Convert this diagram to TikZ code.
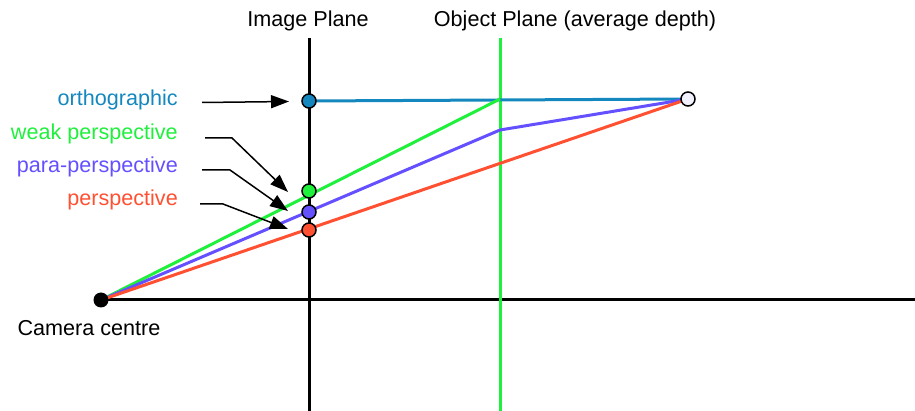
\documentclass[tikz,border=0pt]{standalone}
\usepackage{fontspec}
\setmainfont{Liberation Sans}
\usetikzlibrary{arrows.meta}
\definecolor{cblue}{RGB}{20,136,190}
\definecolor{cgreen}{RGB}{30,240,60}
\definecolor{cpurple}{RGB}{100,80,255}
\definecolor{cred}{RGB}{255,80,50}
\begin{document}
\begin{tikzpicture}[x=1pt,y=-1pt,
  lbl/.style={font=\fontsize{21.6}{25}\selectfont, inner sep=0pt},
  ray/.style={line width=3pt, line join=round},
  plane/.style={line width=3pt},
  dot/.style={circle, draw=black, line width=1.5pt, minimum size=14pt, inner sep=0pt},
  ptr/.style={line width=1.5pt, -{Triangle[length=18pt,width=13pt]}}]
\useasboundingbox (0,0) rectangle (915,411);
% coordinates
\coordinate (C) at (101,300);
\coordinate (P) at (688,99);
\coordinate (Gk) at (500,99);
\coordinate (Pk) at (500,130);
\coordinate (axend) at (915,300);
\coordinate (ipt) at (309,38);
\coordinate (ipb) at (309,411);
\coordinate (opt) at (500,38);
\coordinate (opb) at (500,411);
% planes
\draw[plane, black] (C) -- (axend);
\draw[plane, cgreen] (opt) -- (opb);
% rays
\draw[ray, cblue] (309,101) -- (P);
\draw[ray, cgreen] (C) -- (Gk);
\draw[ray, cpurple] (C) -- (Pk) -- (P);
\draw[ray, cred] (C) -- (P);
\draw[plane, black] (ipt) -- (ipb);
% points
\node[dot, fill=cblue] (ob) at (309,101) {};
\node[dot, fill=cgreen] (wg) at (309,191) {};
\node[dot, fill=cpurple] (pp) at (309,212) {};
\node[dot, fill=cred] (pr) at (309,230) {};
\node[circle, fill=black, minimum size=15pt, inner sep=0pt] (cc) at (C) {};
\node[dot, fill=white!95!blue] (obj) at (P) {};
% labels
\node[lbl, anchor=east, text=cblue] (lo) at (178,100) {orthographic};
\node[lbl, anchor=east, text=cgreen] (lw) at (178,134) {weak perspective};
\node[lbl, anchor=east, text=cpurple] (lp) at (178,167) {para-perspective};
\node[lbl, anchor=east, text=cred] (lr) at (178,200) {perspective};
\node[lbl] (tip) at (308,21) {Image Plane};
\node[lbl] (top) at (575,21) {Object Plane (average depth)};
\node[lbl] (tcc) at (89,328) {Camera centre};
% pointers
\coordinate (a1) at (202,102.5);
\coordinate (a1e) at (289,101.5);
\draw[ptr] (a1) -- (a1e);
\coordinate (a2) at (205,138);
\coordinate (a2b) at (232,138);
\coordinate (a2e) at (288,192);
\draw[ptr] (a2) -- (a2b) -- (a2e);
\coordinate (a3) at (202,170);
\coordinate (a3b) at (230,170);
\coordinate (a3e) at (288,211);
\draw[ptr] (a3) -- (a3b) -- (a3e);
\coordinate (a4) at (200,204);
\coordinate (a4b) at (223,204);
\coordinate (a4e) at (288,229);
\draw[ptr] (a4) -- (a4b) -- (a4e);
\end{tikzpicture}
\end{document}
